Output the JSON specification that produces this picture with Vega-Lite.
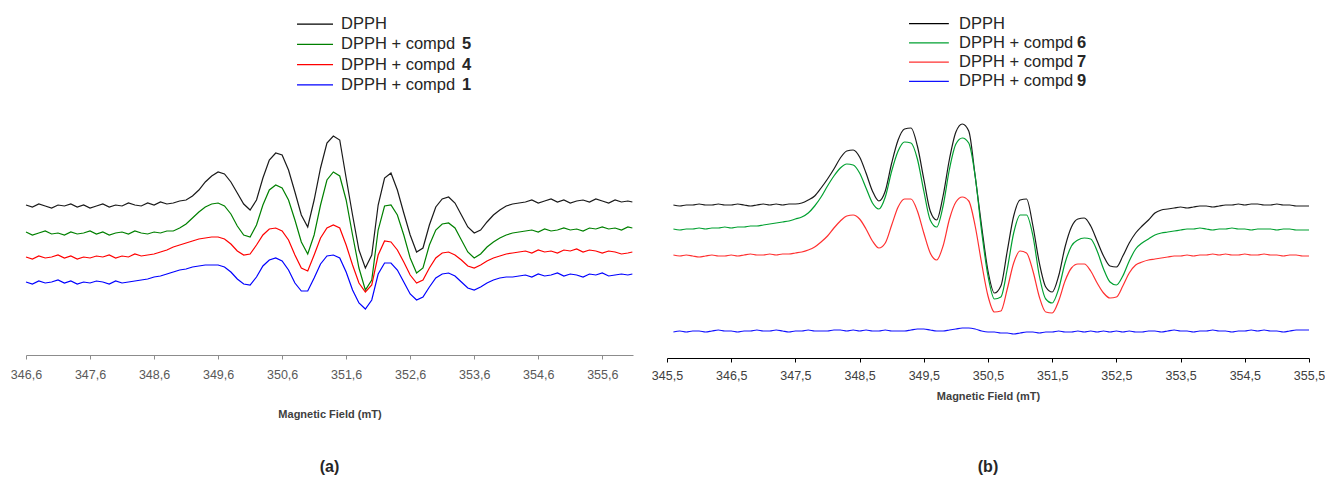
{
  "$schema": "https://vega.github.io/schema/vega-lite/v6.json",
  "padding": {"left": 10, "top": 14, "right": 5, "bottom": 0},
  "background": "white",
  "config": {
    "view": {"stroke": null},
    "font": "Liberation Sans",
    "locale": {"number": {"decimal": ",", "thousands": ".", "grouping": [3], "currency": ["", " €"]}}
  },
  "spacing": 16,
  "resolve": {"scale": {"color": "independent"}},
  "datasets": {
    "legendA": [
      {"series": "DPPH", "label": "DPPH", "num": ""},
      {"series": "5", "label": "DPPH + compd", "num": "5"},
      {"series": "4", "label": "DPPH + compd", "num": "4"},
      {"series": "1", "label": "DPPH + compd", "num": "1"}
    ],
    "legendB": [
      {"series": "DPPH", "label": "DPPH", "num": ""},
      {"series": "6", "label": "DPPH + compd", "num": "6"},
      {"series": "7", "label": "DPPH + compd", "num": "7"},
      {"series": "9", "label": "DPPH + compd", "num": "9"}
    ],
    "a_k": [{"x":346.6,"y":150},{"x":346.7,"y":148},{"x":346.8,"y":151},{"x":346.9,"y":149},{"x":347,"y":147},{"x":347.1,"y":150},{"x":347.2,"y":149},{"x":347.3,"y":151},{"x":347.4,"y":148},{"x":347.5,"y":150},{"x":347.6,"y":147},{"x":347.7,"y":149},{"x":347.8,"y":151},{"x":347.9,"y":148},{"x":348,"y":150},{"x":348.1,"y":149},{"x":348.2,"y":152},{"x":348.3,"y":150},{"x":348.4,"y":149},{"x":348.5,"y":152},{"x":348.6,"y":150},{"x":348.7,"y":153},{"x":348.8,"y":151},{"x":348.9,"y":152},{"x":349,"y":154},{"x":349.1,"y":155},{"x":349.2,"y":159},{"x":349.3,"y":165},{"x":349.4,"y":173},{"x":349.5,"y":179},{"x":349.6,"y":183},{"x":349.7,"y":181},{"x":349.8,"y":173},{"x":349.9,"y":162},{"x":350,"y":151},{"x":350.1,"y":145},{"x":350.2,"y":155},{"x":350.3,"y":177},{"x":350.4,"y":195},{"x":350.5,"y":202},{"x":350.6,"y":200},{"x":350.7,"y":185},{"x":350.8,"y":163},{"x":350.9,"y":140},{"x":351,"y":128},{"x":351.1,"y":155},{"x":351.2,"y":187},{"x":351.3,"y":212},{"x":351.4,"y":219},{"x":351.5,"y":215},{"x":351.6,"y":177},{"x":351.7,"y":140},{"x":351.8,"y":105},{"x":351.9,"y":87},{"x":352,"y":100},{"x":352.1,"y":150},{"x":352.2,"y":177},{"x":352.3,"y":182},{"x":352.4,"y":165},{"x":352.5,"y":142},{"x":352.6,"y":120},{"x":352.7,"y":103},{"x":352.8,"y":107},{"x":352.9,"y":130},{"x":353,"y":148},{"x":353.1,"y":156},{"x":353.2,"y":158},{"x":353.3,"y":152},{"x":353.4,"y":140},{"x":353.5,"y":128},{"x":353.6,"y":122},{"x":353.7,"y":125},{"x":353.8,"y":133},{"x":353.9,"y":140},{"x":354,"y":145},{"x":354.1,"y":149},{"x":354.2,"y":151},{"x":354.3,"y":152},{"x":354.4,"y":153},{"x":354.5,"y":155},{"x":354.6,"y":152},{"x":354.7,"y":154},{"x":354.8,"y":156},{"x":354.9,"y":153},{"x":355,"y":155},{"x":355.1,"y":152},{"x":355.2,"y":154},{"x":355.3,"y":155},{"x":355.4,"y":153},{"x":355.5,"y":156},{"x":355.6,"y":154},{"x":355.7,"y":152},{"x":355.8,"y":155},{"x":355.9,"y":153},{"x":356,"y":154},{"x":356.07,"y":153}],
    "a_g": [{"x":346.6,"y":123},{"x":346.7,"y":120},{"x":346.8,"y":122},{"x":346.9,"y":124},{"x":347,"y":121},{"x":347.1,"y":122},{"x":347.2,"y":120},{"x":347.3,"y":123},{"x":347.4,"y":121},{"x":347.5,"y":122},{"x":347.6,"y":124},{"x":347.7,"y":121},{"x":347.8,"y":123},{"x":347.9,"y":120},{"x":348,"y":122},{"x":348.1,"y":123},{"x":348.2,"y":121},{"x":348.3,"y":124},{"x":348.4,"y":122},{"x":348.5,"y":121},{"x":348.6,"y":123},{"x":348.7,"y":122},{"x":348.8,"y":124},{"x":348.9,"y":124},{"x":349,"y":127},{"x":349.1,"y":131},{"x":349.2,"y":137},{"x":349.3,"y":143},{"x":349.4,"y":148},{"x":349.5,"y":151},{"x":349.6,"y":152},{"x":349.7,"y":149},{"x":349.8,"y":141},{"x":349.9,"y":129},{"x":350,"y":120},{"x":350.1,"y":118},{"x":350.2,"y":130},{"x":350.3,"y":150},{"x":350.4,"y":165},{"x":350.5,"y":170},{"x":350.6,"y":167},{"x":350.7,"y":155},{"x":350.8,"y":135},{"x":350.9,"y":113},{"x":351,"y":101},{"x":351.1,"y":120},{"x":351.2,"y":150},{"x":351.3,"y":175},{"x":351.4,"y":183},{"x":351.5,"y":179},{"x":351.6,"y":155},{"x":351.7,"y":120},{"x":351.8,"y":87},{"x":351.9,"y":65},{"x":352,"y":75},{"x":352.1,"y":125},{"x":352.2,"y":149},{"x":352.3,"y":150},{"x":352.4,"y":140},{"x":352.5,"y":120},{"x":352.6,"y":97},{"x":352.7,"y":82},{"x":352.8,"y":87},{"x":352.9,"y":110},{"x":353,"y":125},{"x":353.1,"y":131},{"x":353.2,"y":132},{"x":353.3,"y":127},{"x":353.4,"y":115},{"x":353.5,"y":103},{"x":353.6,"y":97},{"x":353.7,"y":101},{"x":353.8,"y":108},{"x":353.9,"y":113},{"x":354,"y":117},{"x":354.1,"y":120},{"x":354.2,"y":122},{"x":354.3,"y":123},{"x":354.4,"y":124},{"x":354.5,"y":125},{"x":354.6,"y":123},{"x":354.7,"y":126},{"x":354.8,"y":124},{"x":354.9,"y":125},{"x":355,"y":127},{"x":355.1,"y":125},{"x":355.2,"y":126},{"x":355.3,"y":124},{"x":355.4,"y":127},{"x":355.5,"y":126},{"x":355.6,"y":128},{"x":355.7,"y":126},{"x":355.8,"y":127},{"x":355.9,"y":125},{"x":356,"y":128},{"x":356.07,"y":127}],
    "a_r": [{"x":346.6,"y":98},{"x":346.7,"y":96},{"x":346.8,"y":99},{"x":346.9,"y":97},{"x":347,"y":98},{"x":347.1,"y":100},{"x":347.2,"y":97},{"x":347.3,"y":99},{"x":347.4,"y":96},{"x":347.5,"y":98},{"x":347.6,"y":97},{"x":347.7,"y":99},{"x":347.8,"y":98},{"x":347.9,"y":100},{"x":348,"y":97},{"x":348.1,"y":99},{"x":348.2,"y":98},{"x":348.3,"y":101},{"x":348.4,"y":99},{"x":348.5,"y":100},{"x":348.6,"y":101},{"x":348.7,"y":103},{"x":348.8,"y":105},{"x":348.9,"y":108},{"x":349,"y":110},{"x":349.1,"y":112},{"x":349.2,"y":114},{"x":349.3,"y":116},{"x":349.4,"y":117},{"x":349.5,"y":118},{"x":349.6,"y":118},{"x":349.7,"y":116},{"x":349.8,"y":111},{"x":349.9,"y":104},{"x":350,"y":100},{"x":350.1,"y":101},{"x":350.2,"y":110},{"x":350.3,"y":120},{"x":350.4,"y":126},{"x":350.5,"y":127},{"x":350.6,"y":124},{"x":350.7,"y":115},{"x":350.8,"y":100},{"x":350.9,"y":87},{"x":351,"y":84},{"x":351.1,"y":100},{"x":351.2,"y":117},{"x":351.3,"y":127},{"x":351.4,"y":130},{"x":351.5,"y":127},{"x":351.6,"y":110},{"x":351.7,"y":90},{"x":351.8,"y":72},{"x":351.9,"y":63},{"x":352,"y":70},{"x":352.1,"y":100},{"x":352.2,"y":114},{"x":352.3,"y":113},{"x":352.4,"y":105},{"x":352.5,"y":93},{"x":352.6,"y":80},{"x":352.7,"y":72},{"x":352.8,"y":75},{"x":352.9,"y":87},{"x":353,"y":97},{"x":353.1,"y":102},{"x":353.2,"y":103},{"x":353.3,"y":100},{"x":353.4,"y":95},{"x":353.5,"y":89},{"x":353.6,"y":87},{"x":353.7,"y":90},{"x":353.8,"y":94},{"x":353.9,"y":97},{"x":354,"y":99},{"x":354.1,"y":101},{"x":354.2,"y":102},{"x":354.3,"y":103},{"x":354.4,"y":104},{"x":354.5,"y":102},{"x":354.6,"y":105},{"x":354.7,"y":103},{"x":354.8,"y":104},{"x":354.9,"y":102},{"x":355,"y":105},{"x":355.1,"y":104},{"x":355.2,"y":106},{"x":355.3,"y":103},{"x":355.4,"y":105},{"x":355.5,"y":104},{"x":355.6,"y":102},{"x":355.7,"y":104},{"x":355.8,"y":103},{"x":355.9,"y":101},{"x":356,"y":102},{"x":356.07,"y":103}],
    "a_b": [{"x":346.6,"y":73},{"x":346.7,"y":71},{"x":346.8,"y":74},{"x":346.9,"y":72},{"x":347,"y":73},{"x":347.1,"y":75},{"x":347.2,"y":72},{"x":347.3,"y":74},{"x":347.4,"y":71},{"x":347.5,"y":73},{"x":347.6,"y":72},{"x":347.7,"y":74},{"x":347.8,"y":73},{"x":347.9,"y":71},{"x":348,"y":74},{"x":348.1,"y":72},{"x":348.2,"y":73},{"x":348.3,"y":74},{"x":348.4,"y":75},{"x":348.5,"y":76},{"x":348.6,"y":78},{"x":348.7,"y":79},{"x":348.8,"y":81},{"x":348.9,"y":83},{"x":349,"y":85},{"x":349.1,"y":86},{"x":349.2,"y":88},{"x":349.3,"y":89},{"x":349.4,"y":90},{"x":349.5,"y":90},{"x":349.6,"y":90},{"x":349.7,"y":88},{"x":349.8,"y":83},{"x":349.9,"y":76},{"x":350,"y":71},{"x":350.1,"y":70},{"x":350.2,"y":78},{"x":350.3,"y":89},{"x":350.4,"y":95},{"x":350.5,"y":97},{"x":350.6,"y":94},{"x":350.7,"y":85},{"x":350.8,"y":72},{"x":350.9,"y":64},{"x":351,"y":64},{"x":351.1,"y":77},{"x":351.2,"y":91},{"x":351.3,"y":99},{"x":351.4,"y":100},{"x":351.5,"y":97},{"x":351.6,"y":83},{"x":351.7,"y":65},{"x":351.8,"y":52},{"x":351.9,"y":46},{"x":352,"y":55},{"x":352.1,"y":81},{"x":352.2,"y":92},{"x":352.3,"y":92},{"x":352.4,"y":85},{"x":352.5,"y":73},{"x":352.6,"y":61},{"x":352.7,"y":55},{"x":352.8,"y":58},{"x":352.9,"y":68},{"x":353,"y":77},{"x":353.1,"y":81},{"x":353.2,"y":82},{"x":353.3,"y":79},{"x":353.4,"y":73},{"x":353.5,"y":67},{"x":353.6,"y":65},{"x":353.7,"y":68},{"x":353.8,"y":72},{"x":353.9,"y":75},{"x":354,"y":77},{"x":354.1,"y":78},{"x":354.2,"y":78},{"x":354.3,"y":79},{"x":354.4,"y":80},{"x":354.5,"y":78},{"x":354.6,"y":81},{"x":354.7,"y":79},{"x":354.8,"y":80},{"x":354.9,"y":82},{"x":355,"y":79},{"x":355.1,"y":81},{"x":355.2,"y":80},{"x":355.3,"y":78},{"x":355.4,"y":81},{"x":355.5,"y":80},{"x":355.6,"y":82},{"x":355.7,"y":79},{"x":355.8,"y":80},{"x":355.9,"y":81},{"x":356,"y":80},{"x":356.07,"y":81}],
    "b_k": [{"x":345.6,"y":153},{"x":345.7,"y":152},{"x":345.8,"y":153},{"x":345.9,"y":153},{"x":346,"y":154},{"x":346.1,"y":153},{"x":346.2,"y":153},{"x":346.3,"y":154},{"x":346.4,"y":153},{"x":346.5,"y":153},{"x":346.6,"y":154},{"x":346.7,"y":153},{"x":346.8,"y":152},{"x":346.9,"y":153},{"x":347,"y":154},{"x":347.1,"y":153},{"x":347.2,"y":154},{"x":347.3,"y":153},{"x":347.4,"y":154},{"x":347.5,"y":154},{"x":347.6,"y":155},{"x":347.7,"y":158},{"x":347.8,"y":162},{"x":347.9,"y":170},{"x":348,"y":179},{"x":348.1,"y":189},{"x":348.2,"y":200},{"x":348.3,"y":207},{"x":348.4,"y":208},{"x":348.5,"y":201},{"x":348.6,"y":185},{"x":348.7,"y":167},{"x":348.8,"y":157},{"x":348.9,"y":167},{"x":349,"y":195},{"x":349.1,"y":218},{"x":349.2,"y":229},{"x":349.3,"y":230},{"x":349.4,"y":212},{"x":349.5,"y":179},{"x":349.6,"y":147},{"x":349.7,"y":138},{"x":349.8,"y":162},{"x":349.9,"y":199},{"x":350,"y":226},{"x":350.1,"y":234},{"x":350.2,"y":227},{"x":350.3,"y":182},{"x":350.4,"y":132},{"x":350.5,"y":87},{"x":350.6,"y":65},{"x":350.7,"y":72},{"x":350.8,"y":107},{"x":350.9,"y":142},{"x":351,"y":158},{"x":351.1,"y":159},{"x":351.2,"y":132},{"x":351.3,"y":95},{"x":351.4,"y":71},{"x":351.5,"y":66},{"x":351.6,"y":82},{"x":351.7,"y":111},{"x":351.8,"y":131},{"x":351.9,"y":139},{"x":352,"y":140},{"x":352.1,"y":132},{"x":352.2,"y":117},{"x":352.3,"y":102},{"x":352.4,"y":92},{"x":352.5,"y":91},{"x":352.6,"y":102},{"x":352.7,"y":115},{"x":352.8,"y":125},{"x":352.9,"y":132},{"x":353,"y":138},{"x":353.1,"y":145},{"x":353.2,"y":148},{"x":353.3,"y":149},{"x":353.4,"y":150},{"x":353.5,"y":151},{"x":353.6,"y":150},{"x":353.7,"y":151},{"x":353.8,"y":152},{"x":353.9,"y":152},{"x":354,"y":151},{"x":354.1,"y":152},{"x":354.2,"y":153},{"x":354.3,"y":153},{"x":354.4,"y":154},{"x":354.5,"y":153},{"x":354.6,"y":154},{"x":354.7,"y":154},{"x":354.8,"y":153},{"x":354.9,"y":153},{"x":355,"y":154},{"x":355.1,"y":153},{"x":355.2,"y":153},{"x":355.3,"y":152},{"x":355.4,"y":152},{"x":355.5,"y":152}],
    "b_g": [{"x":345.6,"y":129},{"x":345.7,"y":128},{"x":345.8,"y":129},{"x":345.9,"y":129},{"x":346,"y":130},{"x":346.1,"y":129},{"x":346.2,"y":130},{"x":346.3,"y":130},{"x":346.4,"y":131},{"x":346.5,"y":130},{"x":346.6,"y":131},{"x":346.7,"y":131},{"x":346.8,"y":132},{"x":346.9,"y":132},{"x":347,"y":133},{"x":347.1,"y":134},{"x":347.2,"y":135},{"x":347.3,"y":136},{"x":347.4,"y":137},{"x":347.5,"y":139},{"x":347.6,"y":141},{"x":347.7,"y":145},{"x":347.8,"y":152},{"x":347.9,"y":161},{"x":348,"y":172},{"x":348.1,"y":182},{"x":348.2,"y":190},{"x":348.3,"y":194},{"x":348.4,"y":193},{"x":348.5,"y":185},{"x":348.6,"y":170},{"x":348.7,"y":155},{"x":348.8,"y":149},{"x":348.9,"y":161},{"x":349,"y":187},{"x":349.1,"y":207},{"x":349.2,"y":216},{"x":349.3,"y":215},{"x":349.4,"y":199},{"x":349.5,"y":167},{"x":349.6,"y":138},{"x":349.7,"y":131},{"x":349.8,"y":152},{"x":349.9,"y":189},{"x":350,"y":214},{"x":350.1,"y":220},{"x":350.2,"y":215},{"x":350.3,"y":182},{"x":350.4,"y":127},{"x":350.5,"y":82},{"x":350.6,"y":59},{"x":350.7,"y":61},{"x":350.8,"y":89},{"x":350.9,"y":125},{"x":351,"y":143},{"x":351.1,"y":143},{"x":351.2,"y":122},{"x":351.3,"y":82},{"x":351.4,"y":59},{"x":351.5,"y":55},{"x":351.6,"y":69},{"x":351.7,"y":95},{"x":351.8,"y":112},{"x":351.9,"y":118},{"x":352,"y":120},{"x":352.1,"y":119},{"x":352.2,"y":107},{"x":352.3,"y":89},{"x":352.4,"y":76},{"x":352.5,"y":73},{"x":352.6,"y":82},{"x":352.7,"y":97},{"x":352.8,"y":109},{"x":352.9,"y":115},{"x":353,"y":119},{"x":353.1,"y":123},{"x":353.2,"y":125},{"x":353.3,"y":126},{"x":353.4,"y":127},{"x":353.5,"y":128},{"x":353.6,"y":129},{"x":353.7,"y":129},{"x":353.8,"y":130},{"x":353.9,"y":129},{"x":354,"y":128},{"x":354.1,"y":129},{"x":354.2,"y":129},{"x":354.3,"y":130},{"x":354.4,"y":129},{"x":354.5,"y":129},{"x":354.6,"y":128},{"x":354.7,"y":129},{"x":354.8,"y":129},{"x":354.9,"y":129},{"x":355,"y":128},{"x":355.1,"y":129},{"x":355.2,"y":129},{"x":355.3,"y":128},{"x":355.4,"y":128},{"x":355.5,"y":128}],
    "b_r": [{"x":345.6,"y":103},{"x":345.7,"y":102},{"x":345.8,"y":103},{"x":345.9,"y":102},{"x":346,"y":101},{"x":346.1,"y":102},{"x":346.2,"y":103},{"x":346.3,"y":102},{"x":346.4,"y":102},{"x":346.5,"y":103},{"x":346.6,"y":102},{"x":346.7,"y":103},{"x":346.8,"y":104},{"x":346.9,"y":103},{"x":347,"y":103},{"x":347.1,"y":104},{"x":347.2,"y":103},{"x":347.3,"y":104},{"x":347.4,"y":104},{"x":347.5,"y":105},{"x":347.6,"y":106},{"x":347.7,"y":108},{"x":347.8,"y":111},{"x":347.9,"y":116},{"x":348,"y":122},{"x":348.1,"y":130},{"x":348.2,"y":137},{"x":348.3,"y":142},{"x":348.4,"y":143},{"x":348.5,"y":139},{"x":348.6,"y":129},{"x":348.7,"y":117},{"x":348.8,"y":110},{"x":348.9,"y":115},{"x":349,"y":133},{"x":349.1,"y":151},{"x":349.2,"y":159},{"x":349.3,"y":159},{"x":349.4,"y":147},{"x":349.5,"y":125},{"x":349.6,"y":105},{"x":349.7,"y":98},{"x":349.8,"y":112},{"x":349.9,"y":139},{"x":350,"y":156},{"x":350.1,"y":161},{"x":350.2,"y":157},{"x":350.3,"y":132},{"x":350.4,"y":95},{"x":350.5,"y":62},{"x":350.6,"y":46},{"x":350.7,"y":47},{"x":350.8,"y":69},{"x":350.9,"y":95},{"x":351,"y":107},{"x":351.1,"y":105},{"x":351.2,"y":87},{"x":351.3,"y":61},{"x":351.4,"y":46},{"x":351.5,"y":45},{"x":351.6,"y":57},{"x":351.7,"y":77},{"x":351.8,"y":90},{"x":351.9,"y":94},{"x":352,"y":94},{"x":352.1,"y":87},{"x":352.2,"y":75},{"x":352.3,"y":65},{"x":352.4,"y":60},{"x":352.5,"y":61},{"x":352.6,"y":72},{"x":352.7,"y":85},{"x":352.8,"y":93},{"x":352.9,"y":96},{"x":353,"y":98},{"x":353.1,"y":99},{"x":353.2,"y":100},{"x":353.3,"y":101},{"x":353.4,"y":102},{"x":353.5,"y":102},{"x":353.6,"y":103},{"x":353.7,"y":102},{"x":353.8,"y":103},{"x":353.9,"y":103},{"x":354,"y":104},{"x":354.1,"y":103},{"x":354.2,"y":104},{"x":354.3,"y":103},{"x":354.4,"y":103},{"x":354.5,"y":104},{"x":354.6,"y":103},{"x":354.7,"y":103},{"x":354.8,"y":104},{"x":354.9,"y":103},{"x":355,"y":103},{"x":355.1,"y":102},{"x":355.2,"y":103},{"x":355.3,"y":103},{"x":355.4,"y":102},{"x":355.5,"y":102}],
    "b_b": [{"x":345.6,"y":26},{"x":345.7,"y":27},{"x":345.8,"y":26},{"x":345.9,"y":27},{"x":346,"y":27},{"x":346.1,"y":26},{"x":346.2,"y":27},{"x":346.3,"y":28},{"x":346.4,"y":27},{"x":346.5,"y":27},{"x":346.6,"y":26},{"x":346.7,"y":27},{"x":346.8,"y":27},{"x":346.9,"y":28},{"x":347,"y":27},{"x":347.1,"y":27},{"x":347.2,"y":28},{"x":347.3,"y":27},{"x":347.4,"y":26},{"x":347.5,"y":27},{"x":347.6,"y":27},{"x":347.7,"y":28},{"x":347.8,"y":27},{"x":347.9,"y":27},{"x":348,"y":27},{"x":348.1,"y":28},{"x":348.2,"y":28},{"x":348.3,"y":27},{"x":348.4,"y":28},{"x":348.5,"y":27},{"x":348.6,"y":28},{"x":348.7,"y":27},{"x":348.8,"y":27},{"x":348.9,"y":28},{"x":349,"y":27},{"x":349.1,"y":27},{"x":349.2,"y":27},{"x":349.3,"y":28},{"x":349.4,"y":29},{"x":349.5,"y":29},{"x":349.6,"y":28},{"x":349.7,"y":27},{"x":349.8,"y":27},{"x":349.9,"y":28},{"x":350,"y":29},{"x":350.1,"y":30},{"x":350.2,"y":30},{"x":350.3,"y":29},{"x":350.4,"y":27},{"x":350.5,"y":26},{"x":350.6,"y":26},{"x":350.7,"y":25},{"x":350.8,"y":25},{"x":350.9,"y":24},{"x":351,"y":25},{"x":351.1,"y":26},{"x":351.2,"y":26},{"x":351.3,"y":25},{"x":351.4,"y":26},{"x":351.5,"y":26},{"x":351.6,"y":27},{"x":351.7,"y":26},{"x":351.8,"y":26},{"x":351.9,"y":27},{"x":352,"y":26},{"x":352.1,"y":27},{"x":352.2,"y":26},{"x":352.3,"y":27},{"x":352.4,"y":26},{"x":352.5,"y":27},{"x":352.6,"y":26},{"x":352.7,"y":27},{"x":352.8,"y":26},{"x":352.9,"y":26},{"x":353,"y":27},{"x":353.1,"y":27},{"x":353.2,"y":26},{"x":353.3,"y":27},{"x":353.4,"y":28},{"x":353.5,"y":27},{"x":353.6,"y":27},{"x":353.7,"y":26},{"x":353.8,"y":27},{"x":353.9,"y":27},{"x":354,"y":28},{"x":354.1,"y":27},{"x":354.2,"y":27},{"x":354.3,"y":26},{"x":354.4,"y":27},{"x":354.5,"y":27},{"x":354.6,"y":28},{"x":354.7,"y":27},{"x":354.8,"y":28},{"x":354.9,"y":27},{"x":355,"y":27},{"x":355.1,"y":26},{"x":355.2,"y":27},{"x":355.3,"y":28},{"x":355.4,"y":28},{"x":355.5,"y":28}]
  },
  "hconcat": [
    {
      "bounds": "flush",
      "spacing": 10,
      "vconcat": [
        {
          "width": 607,
          "height": 81,
          "data": {"name": "legendA"},
          "encoding": {
            "y": {"field": "series", "type": "nominal", "sort": null, "axis": null}
          },
          "layer": [
            {
              "mark": {"type": "rule", "strokeWidth": 1.3},
              "encoding": {
                "x": {"datum": 0.4465, "type": "quantitative", "scale": {"domain": [0, 1], "nice": false}, "axis": null},
                "x2": {"datum": 0.5058},
                "color": {"field": "series", "type": "nominal", "scale": {"domain": ["DPPH", "5", "4", "1"], "range": ["#000000", "#008000", "#ff0000", "#0000ff"]}, "legend": null}
              }
            },
            {
              "mark": {"type": "text", "align": "left", "baseline": "middle", "fontSize": 16.5, "color": "#262626"},
              "encoding": {"x": {"datum": 0.519, "type": "quantitative"}, "text": {"field": "label"}}
            },
            {
              "mark": {"type": "text", "align": "left", "baseline": "middle", "fontSize": 16.5, "fontWeight": "bold", "color": "#262626", "dx": 121},
              "encoding": {"x": {"datum": 0.519, "type": "quantitative"}, "text": {"field": "num"}}
            }
          ]
        },
        {
          "width": 607,
          "height": 250,
          "title": {"text": "(a)", "orient": "bottom", "anchor": "middle", "fontSize": 16, "fontWeight": "bold", "color": "#262626", "offset": 39},
          "encoding": {
            "x": {
              "field": "x", "type": "quantitative",
              "scale": {"domain": [346.6, 356.08], "nice": false, "zero": false},
              "axis": {
                "values": [346.6, 347.6, 348.6, 349.6, 350.6, 351.6, 352.6, 353.6, 354.6, 355.6],
                "format": ".1f", "title": "Magnetic Field (mT)", "grid": false,
                "domainColor": "#8c8c8c", "tickColor": "#8c8c8c", "tickSize": 4,
                "labelFontSize": 12.5, "labelColor": "#595959", "labelPadding": 9, "labelFlush": false, "labelOverlap": false,
                "titleFontSize": 11, "titleFontWeight": "bold", "titleColor": "#404040", "titlePadding": 28
              }
            },
            "y": {"field": "y", "type": "quantitative", "scale": {"domain": [0, 250], "nice": false, "zero": false}, "axis": null}
          },
          "layer": [
            {"data": {"name": "a_k"}, "mark": {"type": "line", "color": "#1a1a1a", "strokeWidth": 1.2}},
            {"data": {"name": "a_g"}, "mark": {"type": "line", "color": "#008000", "strokeWidth": 1.2}},
            {"data": {"name": "a_r"}, "mark": {"type": "line", "color": "#ff0000", "strokeWidth": 1.2}},
            {"data": {"name": "a_b"}, "mark": {"type": "line", "color": "#0000ff", "strokeWidth": 1.2}}
          ]
        }
      ]
    },
    {
      "bounds": "flush",
      "spacing": 10,
      "vconcat": [
        {
          "width": 642,
          "height": 77,
          "data": {"name": "legendB"},
          "encoding": {
            "y": {"field": "series", "type": "nominal", "sort": null, "axis": null}
          },
          "layer": [
            {
              "mark": {"type": "rule", "strokeWidth": 1.3},
              "encoding": {
                "x": {"datum": 0.377, "type": "quantitative", "scale": {"domain": [0, 1], "nice": false}, "axis": null},
                "x2": {"datum": 0.439},
                "color": {"field": "series", "type": "nominal", "scale": {"domain": ["DPPH", "6", "7", "9"], "range": ["#000000", "#00a030", "#ff3030", "#1010ff"]}, "legend": null}
              }
            },
            {
              "mark": {"type": "text", "align": "left", "baseline": "middle", "fontSize": 16.5, "color": "#262626"},
              "encoding": {"x": {"datum": 0.455, "type": "quantitative"}, "text": {"field": "label"}}
            },
            {
              "mark": {"type": "text", "align": "left", "baseline": "middle", "fontSize": 16.5, "fontWeight": "bold", "color": "#262626", "dx": 118},
              "encoding": {"x": {"datum": 0.455, "type": "quantitative"}, "text": {"field": "num"}}
            }
          ]
        },
        {
          "width": 642,
          "height": 257,
          "title": {"text": "(b)", "orient": "bottom", "anchor": "middle", "fontSize": 16, "fontWeight": "bold", "color": "#262626", "offset": 57},
          "encoding": {
            "x": {
              "field": "x", "type": "quantitative",
              "scale": {"domain": [345.5, 355.5], "nice": false, "zero": false},
              "axis": {
                "values": [345.5, 346.5, 347.5, 348.5, 349.5, 350.5, 351.5, 352.5, 353.5, 354.5, 355.5],
                "format": ".1f", "title": "Magnetic Field (mT)", "grid": false,
                "domainColor": "#000000", "tickColor": "#000000", "tickSize": 4,
                "labelFontSize": 12.5, "labelColor": "#404040", "labelPadding": 7, "labelFlush": false, "labelOverlap": false,
                "titleFontSize": 11, "titleFontWeight": "bold", "titleColor": "#404040", "titlePadding": 9
              }
            },
            "y": {"field": "y", "type": "quantitative", "scale": {"domain": [0, 257], "nice": false, "zero": false}, "axis": null}
          },
          "layer": [
            {"data": {"name": "b_k"}, "mark": {"type": "line", "color": "#1a1a1a", "strokeWidth": 1.2, "interpolate": "monotone"}},
            {"data": {"name": "b_g"}, "mark": {"type": "line", "color": "#00a030", "strokeWidth": 1.2, "interpolate": "monotone"}},
            {"data": {"name": "b_r"}, "mark": {"type": "line", "color": "#ff3030", "strokeWidth": 1.2, "interpolate": "monotone"}},
            {"data": {"name": "b_b"}, "mark": {"type": "line", "color": "#1010ff", "strokeWidth": 1.2, "interpolate": "monotone"}}
          ]
        }
      ]
    }
  ]
}
